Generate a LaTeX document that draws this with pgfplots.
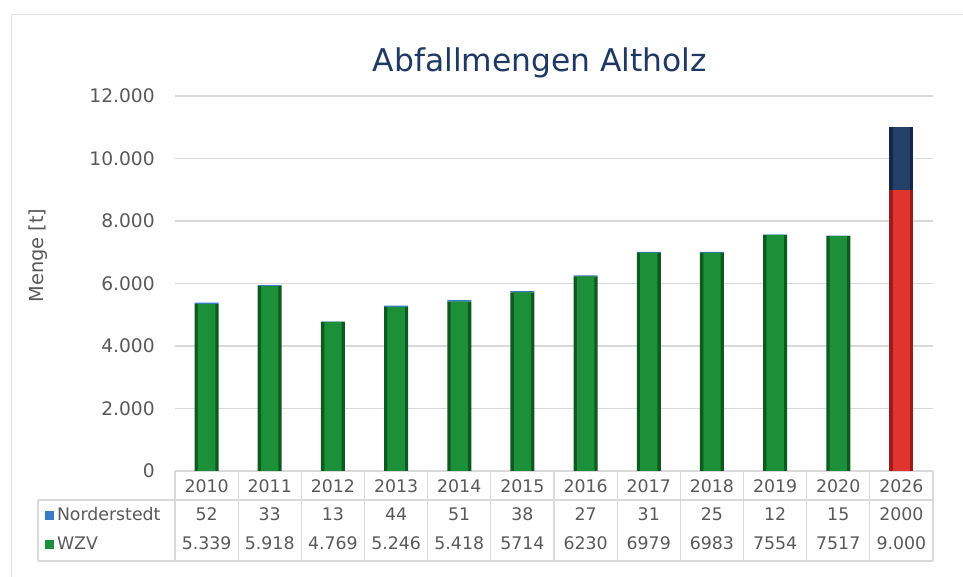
\documentclass[border=0pt]{standalone}
\usepackage{fontspec}
\setmainfont{DejaVu Sans}
\usepackage{pgfplots}
\pgfplotsset{compat=1.18}
\usepackage{xcolor}

\definecolor{txt}{HTML}{595959}
\definecolor{ttl}{HTML}{1F3864}
\definecolor{gridc}{HTML}{D9D9D9}
\definecolor{tabc}{HTML}{D9D9D9}
\definecolor{gdark}{HTML}{0D5A1F}
\definecolor{gmid}{HTML}{1B9038}
\definecolor{rdark}{HTML}{9E1C18}
\definecolor{rmid}{HTML}{E0352E}
\definecolor{ndark}{HTML}{14264A}
\definecolor{nmid}{HTML}{243F68}
\definecolor{bmid}{HTML}{3A7BC8}

% WZV and Norderstedt, split so that 2026 gets its own colours
\pgfplotstableread{
x wzv wzvplan nord nordplan
0 5339 0 52 0
1 5918 0 33 0
2 4769 0 13 0
3 5246 0 44 0
4 5418 0 51 0
5 5714 0 38 0
6 6230 0 27 0
7 6979 0 31 0
8 6983 0 25 0
9 7554 0 12 0
10 7517 0 15 0
11 0 9000 0 2000
}\datatab

\pgfplotsset{barframe/.style={
  scale only axis,
  width=568.5pt, height=281.25pt,
  xmin=-0.5, xmax=11.5, ymin=0, ymax=12000,
  ybar stacked, clip=false}}

\begin{document}
\begin{tikzpicture}
\path[use as bounding box] (-131.25pt,-79.5pt) rectangle (591pt,353.25pt);
\draw[gridc!70] (-123pt,-79.5pt) -- (-123pt,342.75pt) -- (591pt,342.75pt);
\begin{axis}[
  barframe, bar width=18pt,
  axis line style={draw=none},
  major tick length=0pt,
  ymajorgrids, grid style={gridc, line width=0.8pt},
  ytick={0,2000,...,12000},
  scaled y ticks=false,
  /pgf/number format/1000 sep={.},
  /pgf/number format/assume math mode=true,
  yticklabel style={font=\fontsize{14}{16}\selectfont, text=txt, anchor=east, inner sep=0pt, xshift=-15pt},
  xtick={0,...,11},
  xticklabels={{2010\\52\\5.339},{2011\\33\\5.918},{2012\\13\\4.769},{2013\\44\\5.246},{2014\\51\\5.418},{2015\\38\\5714},{2016\\27\\6230},{2017\\31\\6979},{2018\\25\\6983},{2019\\12\\7554},{2020\\15\\7517},{2026\\2000\\9.000}},
  xticklabel style={font=\fontsize{13}{21.4}\selectfont, text=txt, align=center, anchor=north, inner sep=0pt, yshift=-6pt},
  ylabel={Menge [t]},
  ylabel style={font=\fontsize{14.5}{16}\selectfont, text=txt, at={(rel axis cs:0,0.5)}, anchor=center, yshift=102.75pt, xshift=21pt},
  title={Abfallmengen Altholz},
  title style={font=\fontsize{23.5}{26}\selectfont, text=ttl, at={(rel axis cs:0.5,1)}, anchor=center, yshift=19pt, xshift=-10.5pt},
]
\addplot[draw=none, fill=gdark] table[x=x, y=wzv] {\datatab};
\addplot[draw=none, fill=rdark] table[x=x, y=wzvplan] {\datatab};
\addplot[draw=none, fill=bmid] table[x=x, y=nord] {\datatab};
\addplot[draw=none, fill=ndark] table[x=x, y=nordplan] {\datatab};
% data table grid
\pgfplotsinvokeforeach{0,...,12}{
  \draw[tabc, line width=0.8pt] (axis cs:#1-0.5,0) -- ([yshift=-67.5pt]axis cs:#1-0.5,0);
}
\draw[tabc, line width=0.8pt] ([xshift=-102.75pt, yshift=-21.75pt]axis cs:-0.5,0) -- ([yshift=-21.75pt]axis cs:11.5,0);
\draw[tabc, line width=0.8pt] ([xshift=-102.75pt, yshift=-67.5pt]axis cs:-0.5,0) -- ([yshift=-67.5pt]axis cs:11.5,0);
\draw[tabc, line width=0.8pt] ([xshift=-102.75pt, yshift=-21.75pt]axis cs:-0.5,0) -- ([xshift=-102.75pt, yshift=-67.5pt]axis cs:-0.5,0);
\node[anchor=west, inner sep=0pt, font=\fontsize{13}{16}\selectfont, text=txt] at ([xshift=-98pt, yshift=-32.25pt]axis cs:-0.5,0) {\textcolor{bmid}{\rule{0.55em}{0.55em}}\,Norderstedt};
\node[anchor=west, inner sep=0pt, font=\fontsize{13}{16}\selectfont, text=txt] at ([xshift=-98pt, yshift=-54pt]axis cs:-0.5,0) {\textcolor{gmid}{\rule{0.55em}{0.55em}}\,WZV};
\end{axis}
% lighter inner part of each bar
\begin{axis}[barframe, hide axis, bar width=13pt]
\addplot[draw=none, fill=gmid] table[x=x, y=wzv] {\datatab};
\addplot[draw=none, fill=rmid] table[x=x, y=wzvplan] {\datatab};
\addplot[draw=none, fill=none] table[x=x, y=nord] {\datatab};
\addplot[draw=none, fill=nmid] table[x=x, y=nordplan] {\datatab};
\end{axis}
\end{tikzpicture}
\end{document}
